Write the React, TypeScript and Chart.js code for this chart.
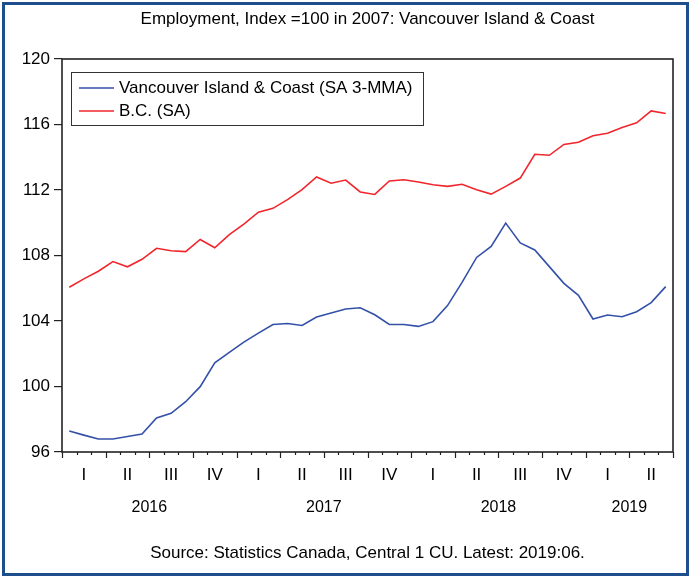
import React, { useEffect, useRef } from "react";
import { Chart, registerables } from "chart.js";

Chart.register(...registerables);

const months = [
  "2016-01", "2016-02", "2016-03", "2016-04", "2016-05", "2016-06",
  "2016-07", "2016-08", "2016-09", "2016-10", "2016-11", "2016-12",
  "2017-01", "2017-02", "2017-03", "2017-04", "2017-05", "2017-06",
  "2017-07", "2017-08", "2017-09", "2017-10", "2017-11", "2017-12",
  "2018-01", "2018-02", "2018-03", "2018-04", "2018-05", "2018-06",
  "2018-07", "2018-08", "2018-09", "2018-10", "2018-11", "2018-12",
  "2019-01", "2019-02", "2019-03", "2019-04", "2019-05", "2019-06",
];

const vancouverIsland = [
  97.28, 97.03, 96.79, 96.79, 96.95, 97.1, 98.08, 98.36, 99.07, 99.99,
  101.45, 102.08, 102.71, 103.26, 103.79, 103.85, 103.73, 104.24, 104.49, 104.73,
  104.81, 104.38, 103.79, 103.79, 103.67, 103.96, 104.94, 106.36, 107.88, 108.55,
  109.98, 108.77, 108.34, 107.32, 106.3, 105.57, 104.12, 104.37, 104.26, 104.57,
  105.12, 106.1,
];

const bc = [
  106.06, 106.57, 107.04, 107.63, 107.31, 107.77, 108.44, 108.29, 108.24, 108.98,
  108.47, 109.28, 109.92, 110.65, 110.88, 111.41, 112.02, 112.8, 112.41, 112.61,
  111.88, 111.73, 112.55, 112.63, 112.49, 112.32, 112.22, 112.35, 112.02, 111.75,
  112.22, 112.73, 114.18, 114.12, 114.78, 114.92, 115.31, 115.47, 115.82, 116.1,
  116.83, 116.67,
];

const quarterLabels = ["I", "II", "III", "IV"];
const yearLabels = ["2016", "2017", "2018", "2019"];
const seriesNames = ["Vancouver Island & Coast (SA 3-MMA)", "B.C. (SA)"];
const titleText = "Employment, Index =100 in 2007: Vancouver Island & Coast";
const sourceText = "Source: Statistics Canada, Central 1 CU. Latest: 2019:06.";

const BLUE = "#3451a8";
const RED = "#f0262c";
const FONT = "'Liberation Sans', Arial, sans-serif";

const decorations = {
  id: "decorations",
  afterDraw(chart: any) {
    const { ctx, chartArea } = chart;
    const { left, right, top, bottom } = chartArea;
    const xScale = chart.scales.x;
    const n = months.length;
    const w = (right - left) / n;
    ctx.save();

    // plot frame
    ctx.strokeStyle = "#222";
    ctx.lineWidth = 1.6;
    ctx.strokeRect(left, top, right - left, bottom - top);

    // x tick marks (monthly minor, quarterly major)
    ctx.lineWidth = 1.2;
    for (let i = 0; i <= n; i++) {
      const x = Math.round(left + i * w) + 0.5;
      const len = i % 3 === 0 ? 6 : 3;
      ctx.beginPath();
      ctx.moveTo(x, bottom);
      ctx.lineTo(x, bottom + len);
      ctx.stroke();
    }

    ctx.fillStyle = "#000";
    ctx.textAlign = "center";
    ctx.textBaseline = "middle";

    // year labels
    ctx.font = `16px ${FONT}`;
    yearLabels.forEach((yr) => {
      const idx = months
        .map((m, i) => (m.startsWith(yr) ? i : -1))
        .filter((i) => i >= 0);
      if (!idx.length) return;
      const x0 = xScale.getPixelForValue(idx[0]);
      const x1 = xScale.getPixelForValue(idx[idx.length - 1]);
      ctx.fillText(yr, (x0 + x1) / 2, 508);
    });

    const cx = (left + right) / 2;
    // title
    ctx.font = `17px ${FONT}`;
    ctx.fillText(titleText, cx, 19);
    // source
    ctx.fillText(sourceText, cx, 553);

    // legend
    const lx = left + 9;
    const ly = top + 13;
    ctx.strokeStyle = "#333";
    ctx.lineWidth = 1;
    ctx.strokeRect(lx + 0.5, ly + 0.5, 352, 53);
    const colors = [BLUE, RED];
    ctx.font = `17px ${FONT}`;
    ctx.textAlign = "left";
    seriesNames.forEach((name, i) => {
      const y = ly + 16 + i * 23;
      ctx.strokeStyle = colors[i];
      ctx.lineWidth = 1.5;
      ctx.beginPath();
      ctx.moveTo(lx + 8, y);
      ctx.lineTo(lx + 43, y);
      ctx.stroke();
      ctx.fillStyle = "#000";
      ctx.fillText(name, lx + 48, y);
    });

    ctx.restore();
  },
};

export default function App() {
  const canvasRef = useRef<HTMLCanvasElement | null>(null);

  useEffect(() => {
    const canvas = canvasRef.current;
    if (!canvas) return;
    const chart = new Chart(canvas, {
      type: "line",
      data: {
        labels: months,
        datasets: [
          {
            label: seriesNames[0],
            data: vancouverIsland,
            borderColor: BLUE,
            borderWidth: 1.6,
            pointRadius: 0,
            tension: 0,
            fill: false,
          },
          {
            label: seriesNames[1],
            data: bc,
            borderColor: RED,
            borderWidth: 1.6,
            pointRadius: 0,
            tension: 0,
            fill: false,
          },
        ],
      },
      options: {
        responsive: false,
        animation: false,
        events: [],
        layout: { padding: { left: 0, top: 59, right: 18, bottom: 87 } },
        plugins: {
          legend: { display: false },
          title: { display: false },
          tooltip: { enabled: false },
        },
        scales: {
          x: {
            type: "category",
            offset: true,
            grid: { display: false, drawTicks: false },
            border: { display: false },
            ticks: {
              autoSkip: false,
              maxRotation: 0,
              minRotation: 0,
              padding: 13,
              color: "#000",
              font: { family: FONT, size: 17 },
              callback: (_v: any, i: number) =>
                i % 3 === 1 ? quarterLabels[Math.floor(i / 3) % 4] : "",
            },
            afterFit: (scale: any) => {
              scale.height = 40;
            },
          },
          y: {
            min: 96,
            max: 120,
            grid: {
              drawOnChartArea: false,
              drawTicks: true,
              tickLength: 8,
              color: "#222",
              lineWidth: 1.2,
            },
            border: { display: false },
            ticks: {
              stepSize: 4,
              padding: 4,
              color: "#000",
              font: { family: FONT, size: 17 },
            },
            afterFit: (scale: any) => {
              scale.width = 62;
            },
          },
        },
      },
      plugins: [decorations],
    });
    return () => chart.destroy();
  }, []);

  return (
    <div
      style={{
        position: "fixed",
        left: 0,
        top: 0,
        width: 691,
        height: 579,
        background: "#fff",
      }}
    >
      <canvas
        ref={canvasRef}
        width={691}
        height={579}
        style={{ position: "absolute", left: 0, top: 0, width: 691, height: 579 }}
      />
      <div
        style={{
          position: "absolute",
          left: 2,
          top: 2,
          width: 687,
          height: 574,
          boxSizing: "border-box",
          border: "3px solid #1f4e8c",
          pointerEvents: "none",
        }}
      />
    </div>
  );
}
